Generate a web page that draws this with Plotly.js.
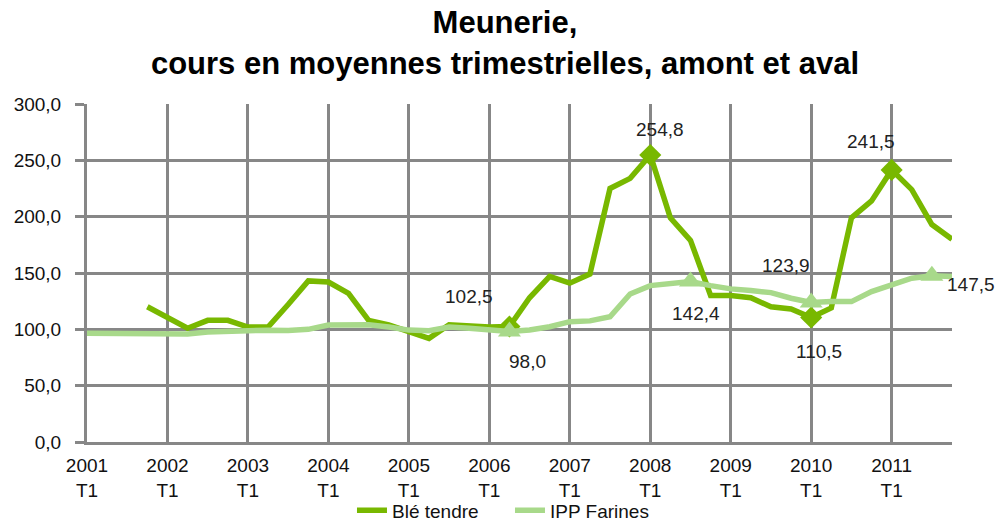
<!DOCTYPE html>
<html>
<head>
<meta charset="utf-8">
<script src="https://cdn.plot.ly/plotly-3.0.1.min.js"></script>
<style>html,body{margin:0;padding:0;background:#fff;}#chart{width:996px;height:522px;}</style>
</head>
<body>
<div id="chart"></div>
<script>
// ---- Data ----
const years = ["2001","2002","2003","2004","2005","2006","2007","2008","2009","2010","2011"];
const quarterNames = ["T1","T2","T3","T4"];
const quarters = [];
years.forEach(y => quarterNames.forEach(q => quarters.push(y + " " + q)));

const bleTendre = [null, null, null, 120, 111, 101, 108, 108, 102, 102,
  122, 143, 142, 132, 108, 104, 98, 92, 104, 103,
  102, 102.5, 128, 147, 141, 149, 225, 234, 254.8, 199,
  179, 130, 130, 128, 120, 118, 110.5, 119, 199, 214,
  241.5, 224, 193, 180];

const ippFarines = [96.5, 96.5, 96.5, 97, 97, 95.8, 97.7, 98.6, 99, 99.2,
  99, 100, 103.8, 104.3, 104, 102, 99.3, 98.8, 102, 101,
  100, 98.0, 99.4, 102.3, 106.8, 107.5, 111.2, 131.4, 138.8, 140,
  142.4, 138.8, 135.9, 134.4, 132.6, 127.6, 123.9, 124.6, 124.6, 133.5,
  140, 145.4, 147.5, 146.8];

// indices of labelled points
const bleLabelIdx = [21, 28, 36, 40];
const ippLabelIdx = [21, 30, 36, 42];

const tickVals = quarters.filter(q => q.endsWith("T1"));
const tickText = tickVals.map(q => q.replace(" ", "<br>"));

// ---- Styles ----
const darkGreen = "#78b800";
const lightGreen = "#a8d98a";
const gridGray = "#878787";
const font = "Liberation Sans, Arial, sans-serif";
// label offsets (px) per labelled point: [xshift, yshift]
const bleOffsets = [[-40, 30], [10, 25], [8, -34], [-21, 28]];
const ippOffsets = [[18, -30], [6, -32], [-25, 37], [39, -9]];

const fmt = v => v.toFixed(1).replace(".", ",");

const traces = [
  { x: quarters, y: bleTendre, name: "Blé tendre", type: "scatter", mode: "lines",
    line: { color: darkGreen, width: 5.5 }, connectgaps: false },
  { x: bleLabelIdx.map(i => quarters[i]), y: bleLabelIdx.map(i => bleTendre[i]),
    type: "scatter", mode: "markers", showlegend: false, hoverinfo: "skip",
    marker: { symbol: "diamond", size: 17, color: darkGreen } },
  { x: quarters, y: ippFarines, name: "IPP Farines", type: "scatter", mode: "lines",
    line: { color: lightGreen, width: 5.5 } },
  { x: ippLabelIdx.map(i => quarters[i]), y: ippLabelIdx.map(i => ippFarines[i]),
    type: "scatter", mode: "markers", showlegend: false, hoverinfo: "skip",
    marker: { symbol: "triangle-up", size: 20, color: lightGreen } }
];

const annotations = [];
bleLabelIdx.forEach((i, k) => annotations.push({
  x: quarters[i], y: bleTendre[i], text: fmt(bleTendre[i]), showarrow: false,
  xshift: bleOffsets[k][0], yshift: bleOffsets[k][1],
  font: { family: font, size: 19, color: "#222" }
}));
ippLabelIdx.forEach((i, k) => annotations.push({
  x: quarters[i], y: ippFarines[i], text: fmt(ippFarines[i]), showarrow: false,
  xshift: ippOffsets[k][0], yshift: ippOffsets[k][1],
  font: { family: font, size: 19, color: "#222" }
}));

const layout = {
  width: 996, height: 522,
  margin: { l: 87, r: 44, t: 104, b: 80, autoexpand: false },
  paper_bgcolor: "#fff", plot_bgcolor: "#fff",
  separators: ", ",
  font: { family: font, color: "#111" },
  title: {
    text: "<b>Meunerie,<br>cours en moyennes trimestrielles, amont et aval</b>",
    font: { family: font, size: 31, color: "#000" },
    x: 0.507, xanchor: "center", y: 0.936, yanchor: "top"
  },
  xaxis: {
    type: "category", categoryorder: "array", categoryarray: quarters,
    range: [0, 43], tickmode: "array", tickvals: tickVals, ticktext: tickText,
    showgrid: true, gridcolor: gridGray, gridwidth: 3,
    showline: true, linecolor: gridGray, linewidth: 3,
    ticks: "", tickfont: { family: font, size: 19, color: "#111" },
    ticklabelstandoff: 4, fixedrange: true
  },
  yaxis: {
    range: [0, 300], dtick: 50, tick0: 0, tickformat: ".1f",
    showgrid: true, gridcolor: gridGray, gridwidth: 3,
    showline: true, linecolor: gridGray, linewidth: 3, zeroline: false,
    ticks: "outside", ticklen: 9, tickwidth: 3, tickcolor: gridGray,
    tickfont: { family: font, size: 19, color: "#111" },
    ticklabelstandoff: 10, fixedrange: true
  },
  legend: {
    orientation: "h", x: 0.489, xanchor: "center", y: -0.202, yanchor: "middle",
    entrywidth: 113, entrywidthmode: "pixels",
    font: { family: font, size: 19, color: "#111" }, bgcolor: "rgba(0,0,0,0)"
  },
  showlegend: true,
  annotations: annotations
};

Plotly.newPlot("chart", traces, layout, { displayModeBar: false, staticPlot: true });
</script>
</body>
</html>
